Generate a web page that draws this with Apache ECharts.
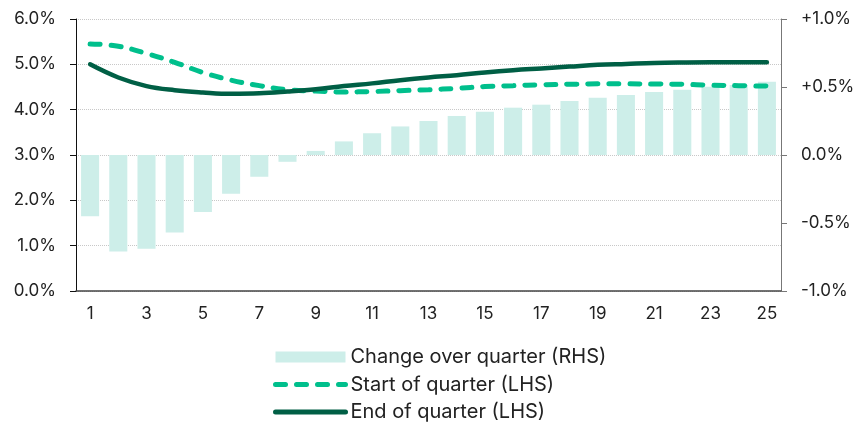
<!DOCTYPE html>
<html>
<head>
<meta charset="utf-8">
<script src="https://cdn.jsdelivr.net/npm/echarts@6/dist/echarts.min.js"></script>
<style>
html,body{margin:0;padding:0;background:#fff;}
#chart{width:861px;height:424px;}
</style>
</head>
<body>
<div id="chart"></div>
<script>
const categories = ['1','2','3','4','5','6','7','8','9','10','11','12','13','14','15','16','17','18','19','20','21','22','23','24','25'];
const changeOverQuarter = [-0.45,-0.71,-0.69,-0.57,-0.42,-0.285,-0.16,-0.05,0.03,0.10,0.16,0.21,0.25,0.287,0.318,0.348,0.37,0.397,0.421,0.441,0.463,0.48,0.502,0.515,0.539];
const startOfQuarter = [5.45,5.40,5.24,5.045,4.82,4.65,4.53,4.44,4.41,4.39,4.40,4.42,4.44,4.47,4.51,4.53,4.55,4.56,4.57,4.57,4.565,4.56,4.54,4.53,4.52];
const endOfQuarter = [5.00,4.71,4.52,4.43,4.38,4.35,4.36,4.40,4.45,4.52,4.58,4.65,4.71,4.76,4.82,4.87,4.91,4.95,4.99,5.01,5.03,5.04,5.045,5.045,5.045];
const leftTicks = ['0.0%','1.0%','2.0%','3.0%','4.0%','5.0%','6.0%'];
const rightTicks = {'-1':'-1.0%','-0.5':'-0.5%','0':'0.0%','0.5':'+0.5%','1':'+1.0%'};

const FONT = 'Inter';
const hiddenSymbol = {opacity:0, color:'rgba(0,0,0,0)', borderWidth:0};
const chart = echarts.init(document.getElementById('chart'), null, {renderer:'canvas'});
chart.setOption({
  animation:false,
  textStyle:{fontFamily:FONT},
  grid:{left:76,right:80,top:19,bottom:133,containLabel:false},
  legend:{
    orient:'vertical', left:273, top:347, height:90,
    itemWidth:70, itemHeight:11, itemGap:7.5, padding:0,
    textStyle:{fontFamily:FONT,fontSize:20,color:'#222',lineHeight:20},
    data:[
      {name:'Change over quarter (RHS)', icon:'rect'},
      {name:'Start of quarter (LHS)', itemStyle:hiddenSymbol,
        lineStyle:{width:5,type:[10,11],cap:'round',color:'#00bf8c'}},
      {name:'End of quarter (LHS)', itemStyle:hiddenSymbol,
        lineStyle:{width:5,type:'solid',cap:'round',color:'#005f45'}}
    ]
  },
  xAxis:{
    type:'category', data:categories, boundaryGap:true,
    axisLine:{show:true,lineStyle:{color:'#444',width:1.5}},
    axisTick:{show:false},
    axisLabel:{interval:1,fontFamily:FONT,fontSize:17,color:'#222',margin:14}
  },
  yAxis:[
    {
      type:'value', min:0, max:6, interval:1, position:'left',
      axisLine:{show:true,lineStyle:{color:'#111',width:1}},
      axisTick:{show:true,length:6,lineStyle:{color:'#111'}},
      splitLine:{show:true,lineStyle:{color:'#c8c8c8',type:'dotted',width:1}},
      axisLabel:{fontFamily:FONT,fontSize:17,color:'#222',margin:20,
        formatter:(v)=>leftTicks[Math.round(v)]}
    },
    {
      type:'value', min:-1, max:1, interval:0.5, position:'right',
      axisLine:{show:true,lineStyle:{color:'#777',width:1}},
      axisTick:{show:true,length:6,lineStyle:{color:'#777'}},
      splitLine:{show:false},
      axisLabel:{fontFamily:FONT,fontSize:17,color:'#222',margin:20,
        formatter:(v)=>rightTicks[String(v)]}
    }
  ],
  series:[
    {
      name:'Change over quarter (RHS)', type:'bar', yAxisIndex:1,
      data:changeOverQuarter, barWidth:'64%',
      itemStyle:{color:'#cdeee9'}
    },
    {
      name:'Start of quarter (LHS)', type:'line', yAxisIndex:0,
      data:startOfQuarter, smooth:0.4, symbol:'none',
      lineStyle:{color:'#00bf8c',width:5,type:[10,11],cap:'round'},
      itemStyle:{color:'#00bf8c'}
    },
    {
      name:'End of quarter (LHS)', type:'line', yAxisIndex:0,
      data:endOfQuarter, smooth:0.4, symbol:'none',
      lineStyle:{color:'#005f45',width:4.5,cap:'round'},
      itemStyle:{color:'#005f45'}
    }
  ]
});
</script>
</body>
</html>
